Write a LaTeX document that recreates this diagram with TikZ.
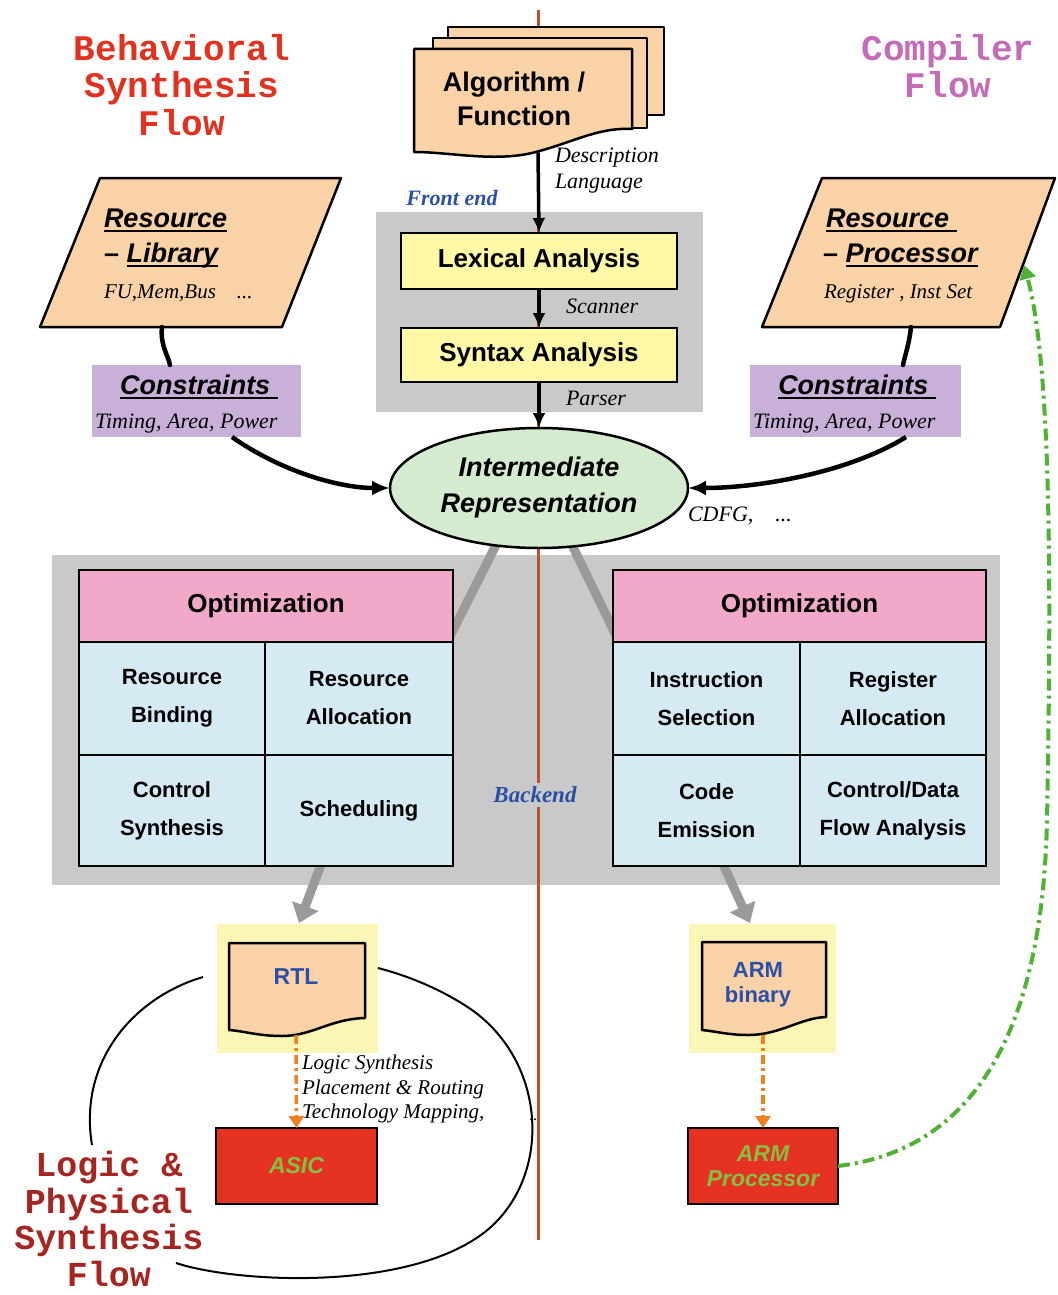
\documentclass[tikz,border=0pt]{standalone}
\usepackage{fontspec}
\setmainfont{Liberation Serif}
\setsansfont{Liberation Sans}
\newfontfamily\courfont{Liberation Mono}
\usetikzlibrary{shapes.geometric,arrows.meta}

\definecolor{panelgray}{HTML}{C9C9C9}
\definecolor{peach}{HTML}{FAD2A8}
\definecolor{lexyellow}{HTML}{FFF8A6}
\definecolor{conpurple}{HTML}{C8B0D8}
\definecolor{irgreen}{HTML}{D5EBCF}
\definecolor{headpink}{HTML}{F2A8C8}
\definecolor{cellblue}{HTML}{D6EAF3}
\definecolor{bgyellow}{HTML}{FBF5B6}
\definecolor{chipred}{HTML}{E53222}
\definecolor{chipgreen}{HTML}{86C040}
\definecolor{dashorange}{HTML}{EE8121}
\definecolor{dashgreen}{HTML}{4FB234}
\definecolor{divred}{HTML}{B5532F}
\definecolor{labelblue}{HTML}{2B4FA6}
\definecolor{behavred}{HTML}{E2321F}
\definecolor{compurple}{HTML}{C46CB7}
\definecolor{logicred}{HTML}{A62520}
\definecolor{linkgray}{HTML}{9A9A9A}

\newcommand\fs[2]{\fontsize{#1}{#2}\selectfont}
\newcommand\ulw[1]{\leavevmode\setbox0=\hbox{#1}\rlap{\rule[-5pt]{\wd0}{2.2pt}}\box0}

\begin{document}
\begin{tikzpicture}[x=1pt,y=-1pt,
  every node/.style={inner sep=0pt,outer sep=0pt},
  flow/.style={line width=3.5pt,-{Latex[length=15pt,width=13pt]}},
  heavy/.style={line width=4.5pt,line cap=round},
  heavyarrow/.style={line width=4.5pt,-{Latex[length=18pt,width=15pt]}},
  box/.style={draw,line width=2.5pt},
  sansb/.style={font=\sffamily\bfseries\fs{26}{32}},
  title/.style={font=\courfont\bfseries\fs{36}{37.5},align=center},
  serifit/.style={font=\rmfamily\itshape\fs{22}{26}},
  headsty/.style={box,fill=headpink,font=\sffamily\bfseries\fs{26}{30},anchor=north west},
  cellsty/.style={box,fill=cellblue,font=\sffamily\bfseries\fs{22}{38},align=center,anchor=north west},
  docsty/.style={fill=peach,draw,line width=2.5pt,line join=round},
  chip/.style={box,fill=chipred,text=chipgreen,font=\sffamily\bfseries\itshape\fs{23}{25},align=center,minimum height=76},
  greylink/.style={linkgray,line width=9pt},
  greyarrow/.style={linkgray,line width=9pt,-{Triangle[length=18pt,width=27pt]}},
  orangedash/.style={dashorange,line width=3.5pt,dash pattern=on 9pt off 4pt on 3pt off 4pt,-{Triangle[length=12pt,width=15pt]}},
  greendash/.style={dashgreen,line width=4pt,dash pattern=on 12pt off 5pt on 3pt off 5pt,-{Triangle[length=14pt,width=16pt]}}]

\fill[white] (0,0) rectangle (1057,1295);
\useasboundingbox (0,0) rectangle (1057,1295);

% flow titles
\node[title,text=behavred] (tbeh) at (182,85) {Behavioral\\Synthesis\\Flow};
\node[title,text=compurple] (tcomp) at (948,66) {Compiler\\Flow};
\node[title,text=logicred,font=\courfont\bfseries\fs{35}{36.5}] (tlogic) at (109,1219) {Logic \&\\Physical\\Synthesis\\Flow};

% grey panels for front end and back end
\fill[panelgray] (376,212) rectangle (703,412);
\fill[panelgray] (52,555) rectangle (1000,885);

% vertical divider between the two flows
\coordinate (divtop) at (538,10);
\coordinate (divbot) at (538,1240);
\draw[divred,line width=3pt] (divtop) -- (divbot);

% thick grey links from the IR to both optimizers and down to the outputs
\coordinate (irsw) at (496,545);
\coordinate (irse) at (572,545);
\coordinate (hlin) at (437,662);
\coordinate (hrin) at (629,662);
\draw[greylink] (irsw) -- (hlin);
\draw[greylink] (irse) -- (hrin);
\coordinate (tlout) at (322,862);
\coordinate (trout) at (722,862);
\coordinate (rtlin) at (299,923);
\coordinate (armin) at (750,923);
\draw[greyarrow] (tlout) -- (rtlin);
\draw[greyarrow] (trout) -- (armin);

% stacked algorithm documents
\filldraw[docsty] (448,27) rectangle (664,115);
\filldraw[docsty] (433,38) rectangle (647,128);
\filldraw[docsty] (414,49) -- (632,49) -- (632,129) .. controls (598,127) and (572,143) .. (532,153) .. controls (492,162) and (450,152) .. (414,152) -- cycle;
\node[sansb,font=\sffamily\bfseries\fs{27}{34},align=center] (alg) at (514,99) {Algorithm /\\Function};
\coordinate (algb) at (538,153);
\node[serifit,align=left,anchor=north west] (desc) at (555,148) {Description\\Language};
\node[font=\rmfamily\bfseries\itshape\fs{22}{22},text=labelblue] (fe) at (452,198) {Front end};

% front end stages
\node[box,fill=lexyellow,minimum width=276,minimum height=56,sansb] (lex) at (539,261) {Lexical Analysis};
\node[box,fill=lexyellow,minimum width=276,minimum height=54,sansb] (syn) at (539,355) {Syntax Analysis};
\node[serifit,anchor=west] (scan) at (566,306) {Scanner};
\node[serifit,anchor=west] (pars) at (566,398) {Parser};

% intermediate representation
\node[ellipse,draw,line width=2.5pt,fill=irgreen,minimum width=298,minimum height=120,
      font=\sffamily\bfseries\itshape\fs{27}{36},align=center] (ir) at (539,488) {Intermediate\\Representation};
\node[serifit,anchor=west] (cdfg) at (688,516) {CDFG,\quad ...};

\draw[flow] (algb) -- (lex.north);
\draw[flow] (lex.south) -- (syn.north);
\draw[flow] (syn.south) -- (ir.north);

% resource library (behavioral side)
\filldraw[fill=peach,line width=2.5pt,line join=round] (100,178) -- (341,178) -- (282,327) -- (40,327) -- cycle;
\node[font=\sffamily\bfseries\itshape\fs{27}{30},anchor=base west] (rl1) at (104,227) {\ulw{Resource}};
\node[font=\sffamily\bfseries\itshape\fs{27}{30},anchor=base west] (rl2) at (104,262) {\upshape–\ \itshape\ulw{Library}};
\node[font=\rmfamily\itshape\fs{21}{24},anchor=base west] (rl3) at (104,298) {FU,Mem,Bus\quad ...};
\coordinate (libb) at (162,327);

% resource processor (compiler side)
\filldraw[fill=peach,line width=2.5pt,line join=round] (822,178) -- (1055,178) -- (1000,327) -- (762,327) -- cycle;
\node[font=\sffamily\bfseries\itshape\fs{27}{30},anchor=base west] (rp1) at (826,227) {\ulw{Resource\ }};
\node[font=\sffamily\bfseries\itshape\fs{27}{30},anchor=base west] (rp2) at (823,262) {\upshape–\ \itshape\ulw{Processor}};
\node[font=\rmfamily\itshape\fs{21}{24},anchor=base west] (rp3) at (824,298) {Register\ , Inst Set};
\coordinate (procb) at (911,327);
\coordinate (procr) at (1024,265);

% constraints
\node[fill=conpurple,minimum width=209,minimum height=72] (conl) at (196.5,401) {};
\node[font=\sffamily\bfseries\itshape\fs{27}{30},anchor=base] (cl1) at (199,394) {\ulw{Constraints\ }};
\node[serifit,anchor=base west] (cl2) at (95,428) {Timing, Area, Power};
\node[fill=conpurple,minimum width=211,minimum height=72] (conr) at (855.5,401) {};
\node[font=\sffamily\bfseries\itshape\fs{27}{30},anchor=base] (cr1) at (857,394) {\ulw{Constraints\ }};
\node[serifit,anchor=base west] (cr2) at (753,428) {Timing, Area, Power};

\coordinate (conlt) at (170,365);
\coordinate (conlb) at (232,437);
\coordinate (conrt) at (903,365);
\coordinate (conrb) at (906,437);
\draw[heavy] (libb) .. controls (160,345) and (168,355) .. (conlt);
\draw[heavy] (procb) .. controls (909,345) and (905,355) .. (conrt);
\draw[heavyarrow] (conlb) .. controls (282,472) and (340,488) .. (ir.west);
\draw[heavyarrow] (conrb) .. controls (850,472) and (760,488) .. (ir.east);

% behavioral synthesis optimizer
\node[headsty,minimum width=374,minimum height=72] (hl) at (79,570) {Optimization};
\node[cellsty,minimum width=186,minimum height=113] (l11) at (79,642) {Resource\\Binding};
\node[cellsty,minimum width=188,minimum height=113] (l12) at (265,642) {Resource\\Allocation};
\node[cellsty,minimum width=186,minimum height=111] (l21) at (79,755) {Control\\Synthesis};
\node[cellsty,minimum width=188,minimum height=111] (l22) at (265,755) {Scheduling};

% compiler optimizer
\node[headsty,minimum width=373,minimum height=72] (hr) at (613,570) {Optimization};
\node[cellsty,minimum width=187,minimum height=113] (r11) at (613,642) {Instruction\\Selection};
\node[cellsty,minimum width=186,minimum height=113] (r12) at (800,642) {Register\\Allocation};
\node[cellsty,minimum width=187,minimum height=111] (r21) at (613,755) {Code\\Emission};
\node[cellsty,minimum width=186,minimum height=111] (r22) at (800,755) {Control/Data\\Flow Analysis};

\node[fill=panelgray,inner ysep=4pt,inner xsep=1pt,font=\rmfamily\bfseries\itshape\fs{23}{23},text=labelblue] (be) at (535,795) {Backend};

% RTL output
\node[fill=bgyellow,minimum width=161,minimum height=129] (rtlbg) at (297.5,988.5) {};
\filldraw[docsty] (229,943) -- (365,943) -- (365,1018) .. controls (330,1019) and (312,1036) .. (282,1036) .. controls (258,1036) and (244,1031) .. (229,1030) -- cycle;
\node[font=\sffamily\bfseries\fs{23}{25},text=labelblue] (rtl) at (296,977) {RTL};
\coordinate (rtlb) at (296,1035);
\node[chip,minimum width=161] (asic) at (296.5,1166) {ASIC};
\draw[orangedash] (rtlb) -- (asic.north);
\node[font=\rmfamily\itshape\fs{21}{24.5},align=left,anchor=north west] (lsyn) at (302,1055) {Logic Synthesis\\Placement \& Routing\\Technology Mapping,};
\node[font=\rmfamily\fs{16}{16}] (ldots) at (533,1120) {..};

% loop around the logic and physical synthesis flow
\coordinate (loopa) at (203,977);
\coordinate (loopb) at (92,1145);
\coordinate (loopc) at (176,1263);
\coordinate (loopd) at (378,968);
\draw[line width=2pt] (loopa) .. controls (135,997) and (78,1060) .. (loopb);
\draw[line width=2pt] (loopc) .. controls (240,1284) and (420,1292) .. (492,1226)
      .. controls (552,1170) and (545,1062) .. (472,1010)
      .. controls (440,988) and (405,975) .. (loopd);

% ARM output
\node[fill=bgyellow,minimum width=147,minimum height=129] (armbg) at (762.5,988.5) {};
\filldraw[docsty] (702,942) -- (826,942) -- (826,1017) .. controls (800,1018) and (780,1035) .. (748,1035) .. controls (728,1035) and (714,1031) .. (702,1030) -- cycle;
\node[font=\sffamily\bfseries\fs{22}{25},text=labelblue,align=center] (armb) at (758,985) {ARM\\binary};
\coordinate (armbb) at (763,1035);
\node[chip,minimum width=150] (armp) at (763,1166) {ARM\\Processor};
\draw[orangedash] (armbb) -- (armp.north);

% feedback from the processor to its resource description
\draw[greendash] (armp.east) .. controls (955,1152) and (1042,1060) .. (1047,820)
      .. controls (1052,560) and (1050,360) .. (procr);

\end{tikzpicture}
\end{document}
